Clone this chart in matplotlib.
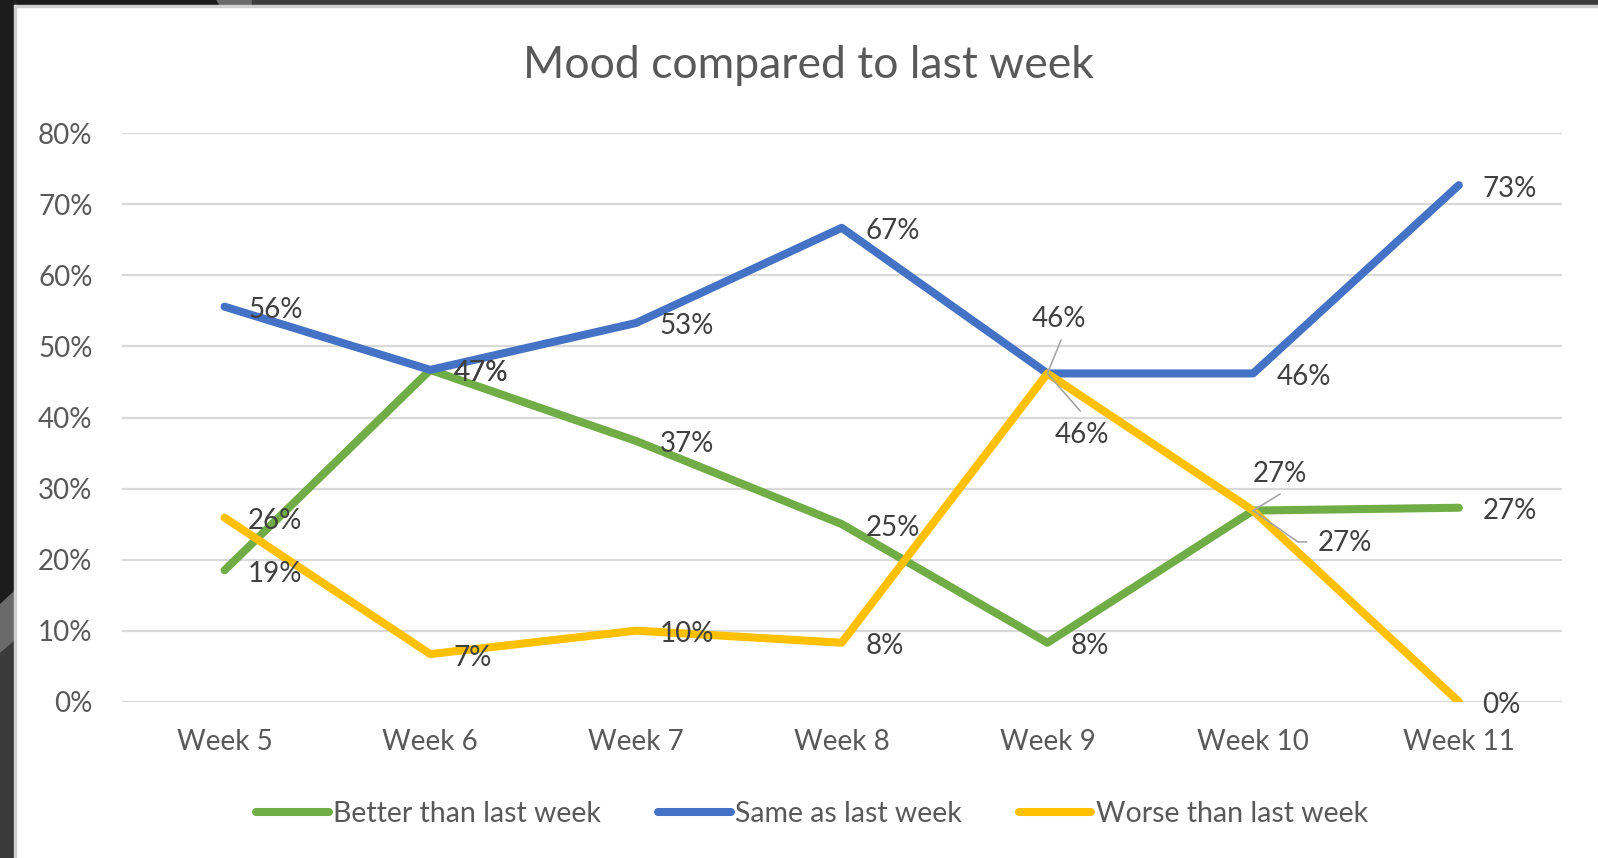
import numpy as np
import matplotlib.pyplot as plt
from matplotlib.patches import Rectangle, Polygon

plt.rcParams['font.family'] = ['Lato', 'DejaVu Sans']

weeks = ["Week 5", "Week 6", "Week 7", "Week 8", "Week 9", "Week 10", "Week 11"]
better = [18.5, 46.7, 36.7, 25.0, 8.3, 26.9, 27.3]
same = [55.6, 46.7, 53.3, 66.7, 46.2, 46.2, 72.7]
worse = [25.9, 6.7, 10.0, 8.3, 46.2, 26.9, 0.0]

series = [
    ("Better than last week", better, "#70ad47"),
    ("Same as last week", same, "#4472c4"),
    ("Worse than last week", worse, "#ffc000"),
]

W, H = 1598, 858
fig = plt.figure(figsize=(W / 100, H / 100), dpi=100, facecolor="white")


def fx(px):
    return px / W


def fy(py):
    return 1 - py / H


# dark window frame around the screenshot
frame = [
    Rectangle((0, fy(5)), fx(220), fy(0) - fy(5), color="#1c1c1c"),
    Polygon([(fx(217), fy(0)), (fx(252), fy(0)), (fx(255), fy(5)), (fx(220), fy(5))], color="#6a6a6a"),
    Rectangle((fx(252), fy(5)), 1, fy(0) - fy(5), color="#3c3c3c"),
    Rectangle((0, 0), fx(14), 1, color="#3a3a3a"),
    Polygon([(0, 1), (fx(14), 1), (fx(14), fy(592)), (0, fy(605))], color="#1c1c1c"),
    Polygon([(0, fy(605)), (fx(14), fy(592)), (fx(14), fy(640)), (0, fy(652))], color="#6a6a6a"),
    Rectangle((fx(14), 0), fx(2), fy(5), color="#d0d0d0"),
    Rectangle((fx(14), fy(7)), 1, fy(5) - fy(7), color="#d0d0d0"),
]
for p in frame:
    p.set_transform(fig.transFigure)
    fig.patches.append(p)

ax = fig.add_axes([fx(121.7), fy(701.7), fx(1561.7 - 121.7), fy(133.3) - fy(701.7)])
ax.set_facecolor("white")
x = np.arange(len(weeks))

for name, vals, col in series:
    ax.plot(x, vals, color=col, lw=5.8, solid_capstyle="round", solid_joinstyle="round", label=name)

ax.set_xlim(-0.5, len(weeks) - 0.5)
ax.set_ylim(0, 80)
ax.set_yticks(np.arange(0, 81, 10))
ax.set_yticklabels([f"{v}%" for v in range(0, 81, 10)])
ax.set_xticks(x)
ax.set_xticklabels(weeks)
ax.grid(axis="y", color="#d9d9d9", lw=1.6)
ax.set_axisbelow(True)
for s in ax.spines.values():
    s.set_visible(False)
ax.tick_params(axis="both", length=0, labelsize=20, colors="#595959")
ax.tick_params(axis="y", pad=21)
ax.tick_params(axis="x", pad=20)

# data labels; a few were dragged away in the original with leader lines
moved = {
    (1, 4): dict(off=(8.6, 39), relpos=(0.53, -0.3)),
    (2, 4): dict(off=(24.5, -44), relpos=(0.48, 1.4)),
    (0, 5): dict(off=(19.4, 26), relpos=(0.5, -0.25)),
    (2, 5): dict(off=(66, -23.5), relpos=(-0.2, 0.55), conn="angle,angleA=0,angleB=-35,rad=0"),
}
lead = "#a6a6a6"
for si, (name, vals, col) in enumerate(series):
    for i, v in enumerate(vals):
        txt = f"{int(np.floor(v + 0.5))}%"
        m = moved.get((si, i))
        if m is None:
            ax.annotate(txt, (i, v), xytext=(17, -2.5), textcoords="offset points",
                        ha="left", va="center", fontsize=20, color="#404040", zorder=5)
        else:
            ax.annotate(txt, (i, v), xytext=m["off"], textcoords="offset points",
                        ha="center", va="center", fontsize=20, color="#404040", zorder=5,
                        arrowprops=dict(arrowstyle="-", color=lead, lw=1.2, shrinkA=0, shrinkB=0,
                                        relpos=m["relpos"],
                                        connectionstyle=m.get("conn", "arc3")))

fig.text(fx(808), fy(78), "Mood compared to last week", ha="center", va="baseline",
         fontsize=32, color="#595959")

fig.legend(loc="center", bbox_to_anchor=(fx(812), fy(814)), ncol=3, frameon=False,
           fontsize=20.5, handlelength=2.55, handletextpad=0.15, columnspacing=2.0,
           labelcolor="#595959")

fig.savefig("out.png", dpi=100, facecolor=fig.get_facecolor())
